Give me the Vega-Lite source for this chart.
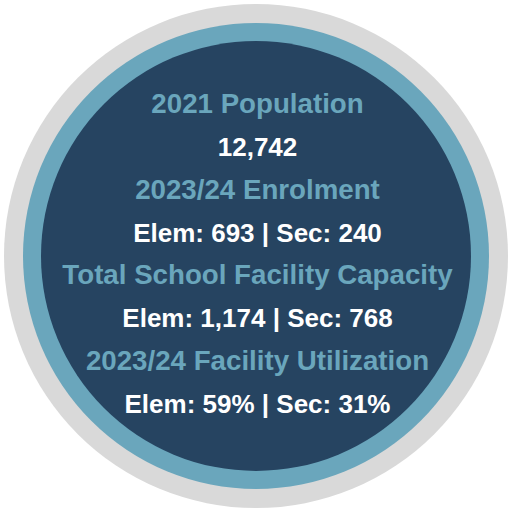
{
  "$schema": "https://vega.github.io/schema/vega-lite/v6.json",
  "width": 510,
  "height": 511,
  "autosize": "none",
  "padding": 0,
  "background": "white",
  "config": {"view": {"stroke": null}},
  "layer": [
    {
      "data": {"values": [
        {"ring": "outer", "r": 252},
        {"ring": "middle", "r": 233},
        {"ring": "inner", "r": 215}
      ]},
      "mark": {"type": "arc", "theta": 0, "theta2": 6.2832},
      "encoding": {
        "x": {"datum": 256, "type": "quantitative", "scale": {"domain": [0, 510], "zero": false, "nice": false}, "axis": null},
        "y": {"datum": 256, "type": "quantitative", "scale": {"domain": [0, 511], "reverse": true, "zero": false, "nice": false}, "axis": null},
        "radius": {"field": "r", "type": "quantitative", "stack": null, "scale": {"type": "linear", "domain": [0, 255.5], "range": [0, 255.5], "zero": true, "nice": false}, "legend": null},
        "color": {"field": "ring", "type": "nominal", "scale": {"domain": ["outer", "middle", "inner"], "range": ["#d9d9d9", "#6aa6bc", "#264461"]}, "legend": null}
      }
    },
    {
      "data": {"values": [
        {"line": 1, "kind": "heading", "label": "2021 Population"},
        {"line": 2, "kind": "value", "label": "12,742"},
        {"line": 3, "kind": "heading", "label": "2023/24 Enrolment"},
        {"line": 4, "kind": "value", "label": "Elem: 693 | Sec: 240"},
        {"line": 5, "kind": "heading", "label": "Total School Facility Capacity"},
        {"line": 6, "kind": "value", "label": "Elem: 1,174 | Sec: 768"},
        {"line": 7, "kind": "heading", "label": "2023/24 Facility Utilization"},
        {"line": 8, "kind": "value", "label": "Elem: 59% | Sec: 31%"}
      ]},
      "mark": {"type": "text", "font": "Liberation Sans", "fontWeight": "bold", "align": "center", "baseline": "alphabetic"},
      "encoding": {
        "x": {"datum": 257.5, "type": "quantitative", "axis": null},
        "y": {"field": "line", "type": "quantitative", "scale": {"domain": [-1.637, 10.287], "reverse": true, "zero": false, "nice": false}, "axis": null},
        "text": {"field": "label", "type": "nominal"},
        "color": {"field": "kind", "type": "nominal", "scale": {"domain": ["heading", "value"], "range": ["#6aa6bc", "#ffffff"]}, "legend": null},
        "size": {"field": "kind", "type": "nominal", "scale": {"domain": ["heading", "value"], "range": [27.7, 26]}, "legend": null}
      }
    }
  ],
  "resolve": {"scale": {"color": "independent", "y": "independent"}}
}
